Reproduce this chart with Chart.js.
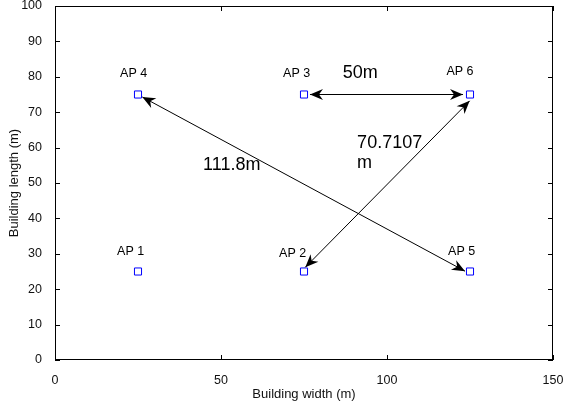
<!DOCTYPE html>
<html>
<head>
<meta charset="utf-8">
<script src="https://cdn.jsdelivr.net/npm/chart.js@4/dist/chart.umd.min.js"></script>
<style>
  body { margin: 0; background: #fff; }
  #wrap { width: 563px; height: 402px; }
</style>
</head>
<body>
<div id="wrap"><canvas id="ap-chart" width="563" height="402"></canvas></div>
<script>
// access point positions (m)
var apNames = ["AP 1", "AP 2", "AP 3", "AP 4", "AP 5", "AP 6"];
var apX = [25, 75, 75, 25, 125, 125];
var apY = [25, 25, 75, 75, 25, 75];

// where each AP name sits (data units)
var nameX = [18.7, 67.5, 68.7, 19.6, 118.4, 117.9];
var nameY = [30.5, 30.2, 80.8, 80.8, 30.5, 81.4];

// double arrows between APs (data units)
var arrowX1 = [76.8, 26.3, 75.4];
var arrowY1 = [75, 74.3, 26.2];
var arrowX2 = [122.9, 123.5, 124.9];
var arrowY2 = [75, 25.1, 73.2];

// distance labels
var distText = ["50m", "70.7107", "m", "111.8m"];
var distX = [86.7, 91, 91, 44.6];
var distY = [81, 61.3, 55.6, 55];

var xTicks = [0, 50, 100, 150];
var yTicks = [0, 10, 20, 30, 40, 50, 60, 70, 80, 90, 100];

var fontName = "'Liberation Sans', Arial, Helvetica, sans-serif";

function drawArrowHead(ctx, x, y, ang) {
  var len = 13, half = 5.5, notch = 4;
  ctx.save();
  ctx.translate(x, y);
  ctx.rotate(ang);
  ctx.beginPath();
  ctx.moveTo(0, 0);
  ctx.lineTo(-len, -half);
  ctx.lineTo(-len + notch, 0);
  ctx.lineTo(-len, half);
  ctx.closePath();
  ctx.fill();
  ctx.restore();
}

var extras = {
  id: "extras",
  afterDatasetsDraw: function (chart) {
    var ctx = chart.ctx;
    var xs = chart.scales.x, ys = chart.scales.y;
    var a = chart.chartArea;
    ctx.save();

    // box + inward ticks
    ctx.strokeStyle = "#000";
    ctx.lineWidth = 1;
    ctx.strokeRect(a.left + 0.5, a.top + 0.5, a.right - a.left - 1, a.bottom - a.top - 1);
    ctx.beginPath();
    xTicks.forEach(function (v) {
      var px = Math.round(xs.getPixelForValue(v)) + 0.5;
      ctx.moveTo(px, a.bottom); ctx.lineTo(px, a.bottom - 5);
      ctx.moveTo(px, a.top); ctx.lineTo(px, a.top + 5);
    });
    yTicks.forEach(function (v) {
      var py = Math.round(ys.getPixelForValue(v)) + 0.5;
      ctx.moveTo(a.left, py); ctx.lineTo(a.left + 5, py);
      ctx.moveTo(a.right, py); ctx.lineTo(a.right - 5, py);
    });
    ctx.stroke();

    // arrows
    ctx.fillStyle = "#000";
    for (var i = 0; i < arrowX1.length; i++) {
      var x1 = xs.getPixelForValue(arrowX1[i]), y1 = ys.getPixelForValue(arrowY1[i]);
      var x2 = xs.getPixelForValue(arrowX2[i]), y2 = ys.getPixelForValue(arrowY2[i]);
      var ang = Math.atan2(y2 - y1, x2 - x1);
      ctx.beginPath();
      ctx.moveTo(x1, y1);
      ctx.lineTo(x2, y2);
      ctx.stroke();
      drawArrowHead(ctx, x2, y2, ang);
      drawArrowHead(ctx, x1, y1, ang + Math.PI);
    }

    // AP names
    ctx.textAlign = "left";
    ctx.textBaseline = "middle";
    ctx.font = "12.5px " + fontName;
    for (var j = 0; j < apNames.length; j++) {
      ctx.fillText(apNames[j], xs.getPixelForValue(nameX[j]), ys.getPixelForValue(nameY[j]));
    }

    // distances
    ctx.font = "18px " + fontName;
    for (var k = 0; k < distText.length; k++) {
      ctx.fillText(distText[k], xs.getPixelForValue(distX[k]), ys.getPixelForValue(distY[k]));
    }
    ctx.restore();
  }
};

var points = apX.map(function (x, i) { return { x: x, y: apY[i] }; });

var config = {
  type: "scatter",
  data: {
    datasets: [{
      label: "APs",
      data: points,
      pointStyle: "rect",
      pointRadius: 5,
      pointHoverRadius: 5,
      borderColor: "#0000ff",
      backgroundColor: "#ffffff",
      borderWidth: 1
    }]
  },
  options: {
    responsive: false,
    animation: false,
    devicePixelRatio: 1,
    layout: { padding: { left: 0, right: 10, top: 6, bottom: 0 } },
    plugins: { legend: { display: false }, tooltip: { enabled: false } },
    scales: {
      x: {
        type: "linear",
        min: 0, max: 150,
        afterBuildTicks: function (s) { s.ticks = xTicks.map(function (v) { return { value: v }; }); },
        afterFit: function (s) { s.height = 42; s.paddingLeft = 0; s.paddingRight = 0; },
        grid: { display: false },
        border: { display: false },
        ticks: { color: "#111", padding: 5, font: { family: fontName, size: 12.5 }, maxRotation: 0 },
        title: { display: true, text: "Building width (m)", color: "#111", padding: { top: 0, bottom: 0 }, font: { family: fontName, size: 13 } }
      },
      y: {
        type: "linear",
        min: 0, max: 100,
        afterBuildTicks: function (s) { s.ticks = yTicks.map(function (v) { return { value: v }; }); },
        afterFit: function (s) { s.width = 55; s.paddingTop = 0; s.paddingBottom = 0; },
        grid: { display: false },
        border: { display: false },
        ticks: { color: "#111", padding: 5, font: { family: fontName, size: 12.5 } },
        title: { display: true, text: "Building length (m)", color: "#111", padding: { top: 7, bottom: 0 }, font: { family: fontName, size: 13 } }
      }
    }
  },
  plugins: [extras]
};

var apChart = new Chart(document.getElementById("ap-chart"), config);
</script>
</body>
</html>
